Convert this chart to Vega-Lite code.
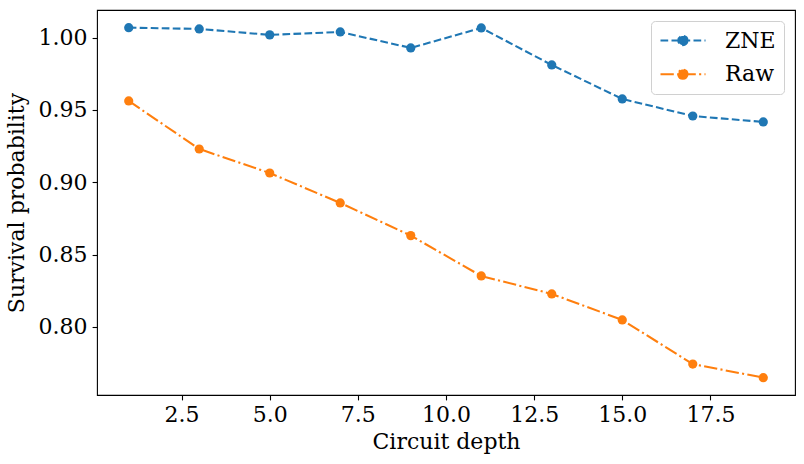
{
  "$schema": "https://vega.github.io/schema/vega-lite/v6.json",
  "width": 698,
  "height": 385,
  "autosize": {"type": "none"},
  "padding": {"left": 97, "top": 10, "right": 9, "bottom": 69},
  "background": "white",
  "config": {
    "font": "DejaVu Serif",
    "view": {"stroke": "black", "strokeWidth": 1.1},
    "axis": {
      "labelFont": "DejaVu Serif",
      "titleFont": "DejaVu Serif",
      "labelFontSize": 22,
      "titleFontSize": 22,
      "titleFontWeight": "normal",
      "labelColor": "black",
      "titleColor": "black",
      "tickColor": "black",
      "domain": false,
      "grid": false,
      "tickSize": 4.9,
      "tickWidth": 1.1,
      "labelPadding": 5
    },
    "legend": {
      "labelFont": "DejaVu Serif",
      "labelFontSize": 22,
      "labelColor": "black"
    }
  },
  "data": {
    "values": [
      {"depth": 1, "p": 1.0069, "series": "ZNE"},
      {"depth": 3, "p": 1.0060, "series": "ZNE"},
      {"depth": 5, "p": 1.0019, "series": "ZNE"},
      {"depth": 7, "p": 1.0039, "series": "ZNE"},
      {"depth": 9, "p": 0.9929, "series": "ZNE"},
      {"depth": 11, "p": 1.0067, "series": "ZNE"},
      {"depth": 13, "p": 0.9811, "series": "ZNE"},
      {"depth": 15, "p": 0.9576, "series": "ZNE"},
      {"depth": 17, "p": 0.9458, "series": "ZNE"},
      {"depth": 19, "p": 0.9417, "series": "ZNE"},
      {"depth": 1, "p": 0.9562, "series": "Raw"},
      {"depth": 3, "p": 0.9230, "series": "Raw"},
      {"depth": 5, "p": 0.9064, "series": "Raw"},
      {"depth": 7, "p": 0.8857, "series": "Raw"},
      {"depth": 9, "p": 0.8631, "series": "Raw"},
      {"depth": 11, "p": 0.8352, "series": "Raw"},
      {"depth": 13, "p": 0.8228, "series": "Raw"},
      {"depth": 15, "p": 0.8048, "series": "Raw"},
      {"depth": 17, "p": 0.7743, "series": "Raw"},
      {"depth": 19, "p": 0.7649, "series": "Raw"}
    ]
  },
  "encoding": {
    "x": {
      "field": "depth",
      "type": "quantitative",
      "scale": {"domain": [0.1, 19.9], "nice": false, "zero": false},
      "axis": {"title": "Circuit depth", "values": [2.5, 5, 7.5, 10, 12.5, 15, 17.5], "format": ".1f", "titlePadding": 6}
    },
    "y": {
      "field": "p",
      "type": "quantitative",
      "scale": {"domain": [0.7529, 1.0191], "nice": false, "zero": false},
      "axis": {"title": "Survival probability", "values": [0.8, 0.85, 0.9, 0.95, 1.0], "format": ".2f", "titlePadding": 10}
    },
    "color": {
      "field": "series",
      "type": "nominal",
      "sort": ["ZNE", "Raw"],
      "scale": {"domain": ["ZNE", "Raw"], "range": ["#1f77b4", "#ff7f0e"]},
      "legend": {
        "title": null,
        "orient": "top-right",
        "offset": 11,
        "padding": 8,
        "strokeColor": "#d0d0d0",
        "fillColor": "rgba(255,255,255,0.8)",
        "cornerRadius": 4,
        "symbolType": "M-1,0H3.5M1.7,0A0.46,0.46 0 1 1 0.78,0A0.46,0.46 0 1 1 1.7,0Z",
        "symbolSize": 400,
        "symbolStrokeWidth": 2.08,
        "labelOffset": 43,
        "rowPadding": 10.7,
        "encode": {
          "symbols": {
            "update": {
              "fill": {"signal": "scale('color', datum.value)"},
              "fillOpacity": {"value": 1},
              "opacity": {"value": 1}
            }
          }
        }
      }
    }
  },
  "layer": [
    {
      "mark": {"type": "line", "strokeWidth": 2.08},
      "encoding": {
        "strokeDash": {
          "field": "series",
          "type": "nominal",
          "scale": {"domain": ["ZNE", "Raw"], "range": [[7.7, 3.3], [13.3, 3.3, 2.1, 3.3]]}
        }
      }
    },
    {
      "mark": {"type": "circle", "size": 85, "opacity": 1}
    }
  ]
}
